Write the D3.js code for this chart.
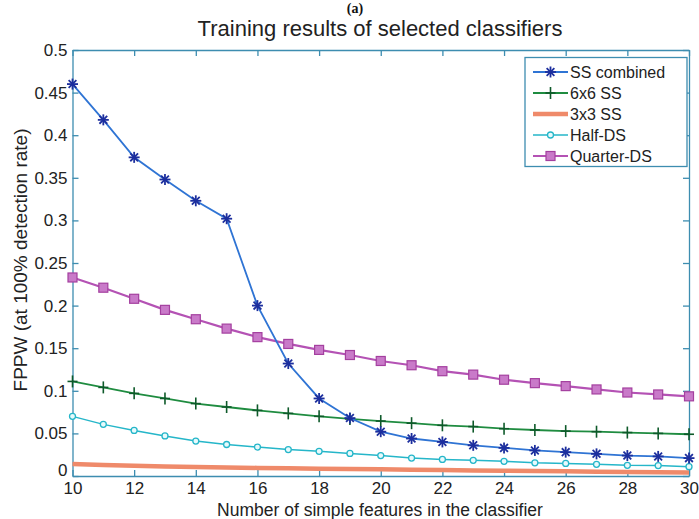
<!DOCTYPE html>
<html>
<head>
<meta charset="utf-8">
<script src="https://cdn.jsdelivr.net/npm/d3@7"></script>
<style>
  body { margin: 0; background: #fff; }
  svg { font-family: "Liberation Sans", Arial, sans-serif; }
</style>
</head>
<body>
<div id="chart"></div>
<script>
// feature counts on the x axis
const features = [10, 11, 12, 13, 14, 15, 16, 17, 18, 19, 20, 21, 22, 23, 24, 25, 26, 27, 28, 29, 30];

// FPPW values
const ssCombined = [0.460, 0.418, 0.374, 0.348, 0.323, 0.302, 0.200, 0.132, 0.091, 0.068, 0.052, 0.044, 0.040, 0.036, 0.033, 0.030, 0.028, 0.026, 0.024, 0.023, 0.021];
const ss6x6 = [0.111, 0.104, 0.097, 0.091, 0.085, 0.081, 0.077, 0.0735, 0.070, 0.067, 0.0645, 0.062, 0.0595, 0.058, 0.0555, 0.054, 0.0527, 0.052, 0.051, 0.050, 0.049];
const ss3x3 = [0.014, 0.013, 0.012, 0.0112, 0.0105, 0.010, 0.0095, 0.009, 0.0086, 0.0082, 0.0078, 0.0074, 0.007, 0.0066, 0.0062, 0.0058, 0.0055, 0.0051, 0.0047, 0.0044, 0.004];
const halfDS = [0.070, 0.0606, 0.0535, 0.047, 0.041, 0.037, 0.034, 0.031, 0.029, 0.0265, 0.024, 0.021, 0.0195, 0.0184, 0.0172, 0.0155, 0.0148, 0.0137, 0.0125, 0.0122, 0.011];
const quarterDS = [0.233, 0.221, 0.208, 0.195, 0.184, 0.173, 0.163, 0.155, 0.148, 0.142, 0.135, 0.130, 0.123, 0.119, 0.113, 0.109, 0.1055, 0.1016, 0.098, 0.0957, 0.0935];

const xTicks = [10, 12, 14, 16, 18, 20, 22, 24, 26, 28, 30];
const yTicks = [0, 0.05, 0.1, 0.15, 0.2, 0.25, 0.3, 0.35, 0.4, 0.45, 0.5];

const series = [
  {name: "SS combined", values: ssCombined, color: "#2f74d4", mark: "#1d2f9e", marker: "star", width: 1.8},
  {name: "6x6 SS", values: ss6x6, color: "#1f8c40", mark: "#0e5a2a", marker: "plus", width: 1.8},
  {name: "3x3 SS", values: ss3x3, color: "#ef8a6a", mark: "#ef8a6a", marker: "none", width: 4.5},
  {name: "Half-DS", values: halfDS, color: "#25b6c9", mark: "#25b6c9", marker: "circle", width: 1.5},
  {name: "Quarter-DS", values: quarterDS, color: "#b452b4", mark: "#b452b4", marker: "square", width: 2.2}
];

const width = 699, height = 519;
const plotLeft = 72.5, plotRight = 689, plotTop = 50, plotBottom = 476;
const axisColor = "#3d8db0";

const svg = d3.select('#chart').append('svg')
    .attr('width', width)
    .attr('height', height);

const x = d3.scaleLinear().domain([10, 30]).range([plotLeft, plotRight]);
const y = d3.scaleLinear().domain([0, 0.5]).range([plotBottom, plotTop]);

// titles
svg.append("text")
    .attr("x", 355).attr("y", 12.5)
    .attr("text-anchor", "middle")
    .attr("font-family", "Liberation Serif, serif")
    .attr("font-weight", "bold")
    .attr("font-size", 14)
    .attr("fill", "#111")
    .text("(a)");

svg.append("text")
    .attr("x", 380).attr("y", 35.5)
    .attr("text-anchor", "middle")
    .attr("font-size", 22)
    .attr("fill", "#222")
    .text("Training results of selected classifiers");

// frame with inward ticks on all sides
const g = svg.append("g");

g.append("g")
    .attr("transform", `translate(0,${plotBottom})`)
    .call(d3.axisBottom(x).tickValues(xTicks).tickSizeInner(-6).tickSizeOuter(0).tickPadding(6).tickFormat(d3.format("d")));
g.append("g")
    .attr("transform", `translate(0,${plotTop})`)
    .call(d3.axisTop(x).tickValues(xTicks).tickSizeInner(-6).tickSizeOuter(0).tickFormat(""));
const yAxis = g.append("g")
    .attr("transform", `translate(${plotLeft},0)`)
    .call(d3.axisLeft(y).tickValues(yTicks).tickSizeInner(-6).tickSizeOuter(0).tickPadding(5).tickFormat(d => d === 0 ? "0" : String(+d.toFixed(2))));
g.append("g")
    .attr("transform", `translate(${plotRight},0)`)
    .call(d3.axisRight(y).tickValues(yTicks).tickSizeInner(-6).tickSizeOuter(0).tickFormat(""));

g.selectAll(".domain").attr("stroke", axisColor).attr("stroke-width", 1.3);
g.selectAll(".tick line").attr("stroke", axisColor).attr("stroke-width", 1.3);
g.selectAll(".tick text").attr("font-size", 17).attr("fill", "#222")
    .attr("font-family", "Liberation Sans, Arial, sans-serif");
// lift the "0" label a little so it clears the "10" below it
yAxis.selectAll(".tick text").filter(d => d === 0).attr("y", -6);

// axis labels
svg.append("text")
    .attr("x", 380).attr("y", 515.5)
    .attr("text-anchor", "middle")
    .attr("font-size", 17.5)
    .attr("fill", "#222")
    .text("Number of simple features in the classifier");

svg.append("text")
    .attr("transform", "translate(27,260) rotate(-90)")
    .attr("text-anchor", "middle")
    .attr("font-size", 19)
    .attr("fill", "#222")
    .text("FPPW (at 100% detection rate)");

// marker drawing
function drawMarker(sel, s, cx, cy) {
  if (s.marker === "star") {
    const r = 5.5;
    d3.range(4).map(i => i * Math.PI / 4).forEach(a => {
      sel.append("line")
          .attr("x1", cx - r * Math.cos(a)).attr("y1", cy - r * Math.sin(a))
          .attr("x2", cx + r * Math.cos(a)).attr("y2", cy + r * Math.sin(a))
          .attr("stroke", s.mark).attr("stroke-width", 1.8);
    });
  } else if (s.marker === "plus") {
    sel.append("line")
        .attr("x1", cx).attr("y1", cy - 6).attr("x2", cx).attr("y2", cy + 6)
        .attr("stroke", s.mark).attr("stroke-width", 1.6);
    sel.append("line")
        .attr("x1", cx - 5).attr("y1", cy).attr("x2", cx + 5).attr("y2", cy)
        .attr("stroke", s.mark).attr("stroke-width", 1.6);
  } else if (s.marker === "circle") {
    sel.append("circle")
        .attr("cx", cx).attr("cy", cy).attr("r", 3)
        .attr("fill", "#e8fafc").attr("stroke", s.mark).attr("stroke-width", 1.3);
  } else if (s.marker === "square") {
    sel.append("rect")
        .attr("x", cx - 4.5).attr("y", cy - 4.5).attr("width", 9).attr("height", 9)
        .attr("fill", "#c97ac9").attr("stroke", "#a4409f").attr("stroke-width", 1.2);
  }
}

const line = d3.line()
    .x((d, i) => x(features[i]))
    .y(d => y(d));

// draw in back-to-front order
const order = ["3x3 SS", "Half-DS", "6x6 SS", "Quarter-DS", "SS combined"];
order.forEach(name => {
  const s = series.find(d => d.name === name);
  const sg = svg.append("g");
  sg.append("path")
      .datum(s.values)
      .attr("fill", "none")
      .attr("stroke", s.color)
      .attr("stroke-width", s.width)
      .attr("d", line);
  s.values.forEach((v, i) => drawMarker(sg, s, x(features[i]), y(v)));
});

// legend
const lg = svg.append("g");
lg.append("rect")
    .attr("x", 525).attr("y", 57.5).attr("width", 162).attr("height", 109)
    .attr("fill", "#fff").attr("stroke", axisColor).attr("stroke-width", 1.3);

series.forEach((s, i) => {
  const ly = 72 + i * 21;
  lg.append("line")
      .attr("x1", 533).attr("x2", 568).attr("y1", ly).attr("y2", ly)
      .attr("stroke", s.color).attr("stroke-width", s.width);
  drawMarker(lg, s, 550.5, ly);
  lg.append("text")
      .attr("x", 570).attr("y", ly + 6)
      .attr("font-size", 16)
      .attr("fill", "#222")
      .text(s.name);
});
</script>
</body>
</html>
